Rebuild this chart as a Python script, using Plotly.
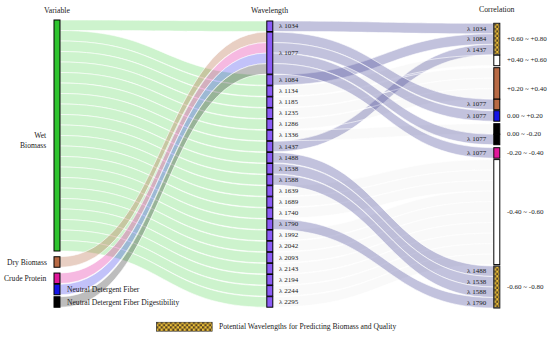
import base64
import plotly.graph_objects as go

# ---------------- data ----------------
variables = ["Wet Biomass", "Dry Biomass", "Crude Protein",
             "Neutral Detergent Fiber", "Neutral Detergent Fiber Digestibility"]
variable_labels = ["Wet<br>Biomass", "Dry Biomass", "Crude Protein",
                   "Neutral Detergent Fiber", "Neutral Detergent Fiber Digestibility"]
variable_colors = ["#2EC42E", "#B86A45", "#E0179B", "#1414E6", "#000000"]
variable_link_colors = ["rgba(90,215,90,0.30)", "rgba(184,106,69,0.32)",
                        "rgba(224,23,155,0.30)", "rgba(20,20,230,0.26)",
                        "rgba(0,0,0,0.26)"]

wavelengths = [1034, 1077, 1084, 1134, 1185, 1235, 1286, 1336, 1437, 1488, 1538,
               1588, 1639, 1689, 1740, 1790, 1992, 2042, 2093, 2143, 2194, 2244, 2295]

# Variable -> wavelength links
var_link_source = (["Wet Biomass"] * 22 +
                   ["Dry Biomass", "Crude Protein", "Neutral Detergent Fiber",
                    "Neutral Detergent Fiber Digestibility"])
var_link_target = [1034, 1084, 1134, 1185, 1235, 1286, 1336, 1437, 1488, 1538, 1588,
                   1639, 1689, 1740, 1790, 1992, 2042, 2093, 2143, 2194, 2244, 2295,
                   1077, 1077, 1077, 1077]
var_link_value = [1] * 26

# Wavelength -> correlation range links
correlation_ranges = ["+0.60 ~ +0.80", "+0.40 ~ +0.60", "+0.20 ~ +0.40", "0.00 ~ +0.20",
                      "0.00 ~ -0.20", "-0.20 ~ -0.40", "-0.40 ~ -0.60", "-0.60 ~ -0.80"]
range_colors = ["checker", "#FFFFFF", "#B86A45", "#1414E6",
                "#000000", "#E0179B", "#FFFFFF", "checker"]

wl_link_source = [1034, 1084, 1437,
                  1134,
                  1185, 1235, 1286, 1077,
                  1077,
                  1336, 1077,
                  1077,
                  1639, 1689, 1740, 1992, 2042, 2093, 2143, 2194, 2244, 2295,
                  1488, 1538, 1588, 1790]
wl_link_target = (["+0.60 ~ +0.80"] * 3 + ["+0.40 ~ +0.60"] + ["+0.20 ~ +0.40"] * 4 +
                  ["0.00 ~ +0.20"] + ["0.00 ~ -0.20"] * 2 + ["-0.20 ~ -0.40"] +
                  ["-0.40 ~ -0.60"] * 10 + ["-0.60 ~ -0.80"] * 4)
wl_link_value = [1] * 26
wl_link_potential = [1, 1, 1,
                     0,
                     0, 0, 0, 1,
                     1,
                     0, 1,
                     1,
                     0, 0, 0, 0, 0, 0, 0, 0, 0, 0,
                     1, 1, 1, 1]

column_titles = ["Variable", "Wavelength", "Correlation"]
legend_text = "Potential Wavelengths for Predicting Biomass and Quality"

# ---------------- layout constants (pixels) ----------------
FIG_W, FIG_H = 550, 337
DOM_X0, DOM_X1 = 30, 520
DOM_Y0, DOM_Y1 = 20, 309
dom_w = DOM_X1 - DOM_X0
dom_h = DOM_Y1 - DOM_Y0
KY = 10.5                          # pixels per unit of flow
THICK = 6
COL_X = [57.0, 269.8, 496.8]       # node centres per column
total_units = sum(var_link_value)
NODE_PAD = (dom_h - total_units * KY) / (len(wavelengths) - 1)

left_centers = [135.5, 262.0, 278.3, 289.5, 302.0]
mid_top, mid_gap = 21.0, 0.6
right_block_tops = [23.3, 55.2, 67.7, 110.7, 123.7, 147.7, 159.6, 266.0]

FONT = "Liberation Serif"
TXT = "#1a1a1a"

# ---------------- build nodes ----------------
var_idx = {v: i for i, v in enumerate(variables)}
wl_idx = {w: len(variables) + i for i, w in enumerate(wavelengths)}
sub_nodes = []     # (range index, potential flag)
sub_idx = {}
n = len(variables) + len(wavelengths)
for r, name in enumerate(correlation_ranges):
    for pot in (0, 1):
        if any(t == name and p == pot for t, p in zip(wl_link_target, wl_link_potential)):
            sub_idx[(name, pot)] = n
            sub_nodes.append((r, pot))
            n += 1
n_nodes = n

out_v = [0.0] * n_nodes
in_v = [0.0] * n_nodes
for s, t, v in zip(var_link_source, var_link_target, var_link_value):
    out_v[var_idx[s]] += v
    in_v[wl_idx[t]] += v
for s, t, v, p in zip(wl_link_source, wl_link_target, wl_link_value, wl_link_potential):
    out_v[wl_idx[s]] += v
    in_v[sub_idx[(t, p)]] += v
val = [max(a, b) for a, b in zip(in_v, out_v)]

cx = [0.0] * n_nodes
cy = [0.0] * n_nodes
top = [0.0] * n_nodes
for i, v in enumerate(variables):
    cx[i] = COL_X[0]
    cy[i] = left_centers[i]
t = mid_top
for w in wavelengths:
    i = wl_idx[w]
    cx[i] = COL_X[1]
    top[i] = t
    cy[i] = t + val[i] * KY / 2
    t += val[i] * KY + mid_gap
for r, name in enumerate(correlation_ranges):
    t = right_block_tops[r]
    for pot in (0, 1):
        if (name, pot) in sub_idx:
            i = sub_idx[(name, pot)]
            cx[i] = COL_X[2]
            top[i] = t
            cy[i] = t + val[i] * KY / 2
            t += val[i] * KY

node_x = [(x - DOM_X0) / dom_w for x in cx]
node_y = [(y - DOM_Y0) / dom_h for y in cy]

node_color, node_line_c, node_line_w = [], [], []
for i in range(n_nodes):
    if i < len(variables):
        node_color.append(variable_colors[i])
        node_line_c.append("rgba(0,0,0,0.35)")
        node_line_w.append(0.5)
    elif i < len(variables) + len(wavelengths):
        node_color.append("#8B5CF6")
        node_line_c.append("#3F1A8C")
        node_line_w.append(0.7)
for (r, pot) in sub_nodes:
    c = range_colors[r]
    if c == "checker":
        node_color.append("rgba(0,0,0,0)")
        node_line_c.append("#444444")
        node_line_w.append(0.6)
    elif c == "#FFFFFF":
        node_color.append("#FFFFFF")
        node_line_c.append("#7A7A7A")
        node_line_w.append(0.8)
    else:
        node_color.append(c)
        node_line_c.append(c)
        node_line_w.append(0.6)

hover_names = variables + ["λ %d" % w for w in wavelengths] + \
    [correlation_ranges[r] for r, _ in sub_nodes]

# ---------------- links ----------------
src, tgt, vals, lcol = [], [], [], []
for s, t2, v in zip(var_link_source, var_link_target, var_link_value):
    src.append(var_idx[s]); tgt.append(wl_idx[t2]); vals.append(v)
    lcol.append(variable_link_colors[var_idx[s]])
for s, t2, v, p in zip(wl_link_source, wl_link_target, wl_link_value, wl_link_potential):
    src.append(wl_idx[s]); tgt.append(sub_idx[(t2, p)]); vals.append(v)
    lcol.append("rgba(85,85,160,0.36)" if p else "rgba(0,0,0,0.022)")

fig = go.Figure(go.Sankey(
    arrangement="fixed",
    domain=dict(x=[DOM_X0 / FIG_W, DOM_X1 / FIG_W],
                y=[1 - DOM_Y1 / FIG_H, 1 - DOM_Y0 / FIG_H]),
    node=dict(label=[""] * n_nodes, customdata=hover_names, x=node_x, y=node_y,
              pad=NODE_PAD, thickness=THICK, color=node_color,
              line=dict(color=node_line_c, width=node_line_w),
              hovertemplate="%{customdata}<extra></extra>"),
    link=dict(source=src, target=tgt, value=vals, color=lcol,
              line=dict(color="white", width=0.6), hoverinfo="none"),
    textfont=dict(size=1, color="rgba(0,0,0,0)"),
))

# ---------------- annotations ----------------
ann = []


def add_text(text, x, y, xanchor, size, align="left"):
    ann.append(dict(text=text, x=x / FIG_W, y=1 - y / FIG_H, xref="paper", yref="paper",
                    xanchor=xanchor, yanchor="middle", showarrow=False, align=align,
                    font=dict(family=FONT, size=size, color=TXT)))


add_text(column_titles[0], COL_X[0], 10, "center", 7.8)
add_text(column_titles[1], COL_X[1], 10, "center", 7.8)
add_text(column_titles[2], COL_X[2], 9, "center", 7.8)

label_side = ["left", "left", "left", "right", "right"]
for i, lab in enumerate(variable_labels):
    yy = cy[i] + (5 if "<br>" in lab else 0)
    if label_side[i] == "left":
        add_text(lab, COL_X[0] - THICK / 2 - 5, yy, "right", 7.6, align="right")
    else:
        add_text(lab, COL_X[0] + THICK / 2 + 5, yy, "left", 7.6)

for w in wavelengths:
    i = wl_idx[w]
    add_text("λ %d" % w, COL_X[1] + THICK / 2 + 4, cy[i], "left", 7.0)

for r, name in enumerate(correlation_ranges):
    idxs = [sub_idx[(name, p)] for p in (0, 1) if (name, p) in sub_idx]
    t0 = min(top[i] for i in idxs)
    t1 = max(top[i] + val[i] * KY for i in idxs)
    add_text(name, COL_X[2] + THICK / 2 + 5, (t0 + t1) / 2, "left", 7.0)

# labels at right ends of potential links (stacked by source position)
for (r, pot) in sub_nodes:
    if not pot:
        continue
    i = sub_idx[(correlation_ranges[r], pot)]
    incoming = sorted([s for s, t2 in zip(src, tgt) if t2 == i], key=lambda s: cy[s])
    for k, s in enumerate(incoming):
        add_text("λ %d" % wavelengths[s - len(variables)],
                 COL_X[2] - THICK / 2 - 5, top[i] + (k + 0.5) * KY, "right", 7.0)

# legend text
LEG_X0, LEG_X1, LEG_Y0, LEG_Y1 = 156, 212.7, 321.7, 331.7
add_text(legend_text, LEG_X1 + 4, (LEG_Y0 + LEG_Y1) / 2, "left", 7.6)


# ---------------- checkered pattern images ----------------
def checker_uri(w, h, sq=2.3):
    svg = ("<svg xmlns='http://www.w3.org/2000/svg' width='{w}' height='{h}' "
           "viewBox='0 0 {w} {h}' preserveAspectRatio='none'>"
           "<defs><pattern id='c' width='{d}' height='{d}' patternUnits='userSpaceOnUse'>"
           "<rect width='{d}' height='{d}' fill='#EEC23A'/>"
           "<rect width='{s}' height='{s}' fill='#5A4520'/>"
           "<rect x='{s}' y='{s}' width='{s}' height='{s}' fill='#5A4520'/>"
           "</pattern></defs>"
           "<rect x='0.4' y='0.4' width='{iw}' height='{ih}' fill='url(#c)' "
           "stroke='#3a3a3a' stroke-width='0.8'/></svg>").format(
        w=w, h=h, d=2 * sq, s=sq, iw=w - 0.8, ih=h - 0.8)
    return "data:image/svg+xml;base64," + base64.b64encode(svg.encode()).decode()


images = []
for (r, pot) in sub_nodes:
    if range_colors[r] != "checker":
        continue
    i = sub_idx[(correlation_ranges[r], pot)]
    hpx = val[i] * KY
    images.append(dict(source=checker_uri(THICK, round(hpx, 2)), xref="paper", yref="paper",
                       x=(COL_X[2] - THICK / 2) / FIG_W, y=1 - top[i] / FIG_H,
                       sizex=THICK / FIG_W, sizey=hpx / FIG_H, xanchor="left",
                       yanchor="top", sizing="stretch", layer="above"))
images.append(dict(source=checker_uri(round(LEG_X1 - LEG_X0, 2), LEG_Y1 - LEG_Y0),
                   xref="paper", yref="paper", x=LEG_X0 / FIG_W, y=1 - LEG_Y0 / FIG_H,
                   sizex=(LEG_X1 - LEG_X0) / FIG_W, sizey=(LEG_Y1 - LEG_Y0) / FIG_H,
                   xanchor="left", yanchor="top", sizing="stretch", layer="above"))

fig.update_layout(width=FIG_W, height=FIG_H, margin=dict(l=0, r=0, t=0, b=0),
                  paper_bgcolor="white", plot_bgcolor="white",
                  annotations=ann, images=images, showlegend=False)

# remove the browser's default 8px page margin so the 550x337 figure fills the window
fig.write_html("out.html",
               config={"displayModeBar": False},
               post_script="document.body.style.margin='0';"
                           "document.body.style.overflow='hidden';")
